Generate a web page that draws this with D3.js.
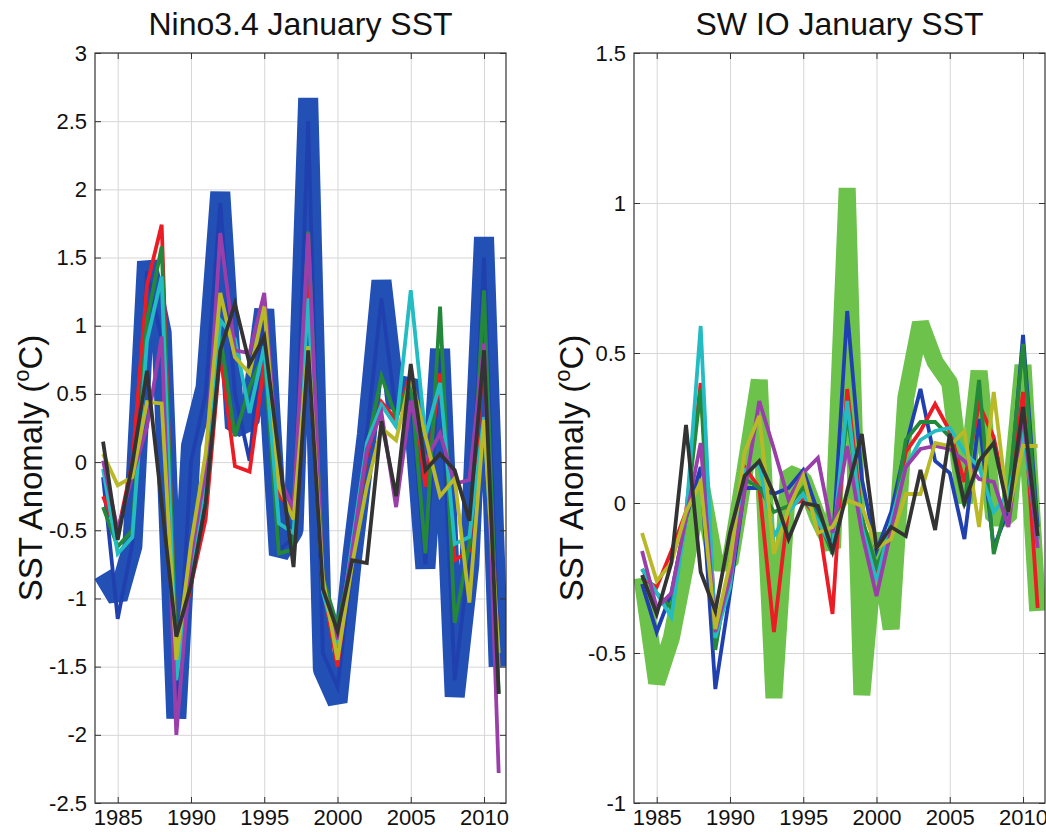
<!DOCTYPE html>
<html lang="en">
<head>
    <meta charset="utf-8">
    <title>January SST</title>
    <script src="https://cdn.jsdelivr.net/npm/d3@7"></script>
</head>
<style>
    body {
        margin: 0;
        padding: 0;
        background-color: #ffffff;
        font-family: "Liberation Sans", Arial, sans-serif;
    }
    .grid line {
        stroke: #d6d6d6;
        stroke-width: 1;
    }
    .grid path {
        display: none;
    }
    .axis path {
        display: none;
    }
    .axis line {
        stroke: #333;
    }
    .axis text {
        font-size: 22px;
        fill: #111;
    }
    .panel-title {
        font-size: 32px;
        text-anchor: middle;
        fill: #111;
    }
    .y-title {
        font-size: 33px;
        text-anchor: middle;
        fill: #111;
    }
</style>
<body>
    <svg width="1046" height="832" id="chart"></svg>
    <script>
        // years on the x axis
        var years = [1984, 1985, 1986, 1987, 1988, 1989, 1990, 1991, 1992, 1993, 1994, 1995, 1996, 1997,
                     1998, 1999, 2000, 2001, 2002, 2003, 2004, 2005, 2006, 2007, 2008, 2009, 2010, 2011];
        var xTicks = [1985, 1990, 1995, 2000, 2005, 2010];
        var ninoTicks = [-2.5, -2, -1.5, -1, -0.5, 0, 0.5, 1, 1.5, 2, 2.5, 3];
        var swioTicks = [-1, -0.5, 0, 0.5, 1, 1.5];

        // Nino3.4 January SST anomaly (thick band = observed)
        var ninoObs     = [-0.82, -1.0, -0.62, 1.47, 0.95, -1.88, 0.12, 0.55, 1.98, 0.25, 0.3, 1.12, -0.68, -0.5,
                           2.67, -1.52, -1.76, -0.7, 0.2, 1.33, 0.4, 0.6, -0.78, 0.83, -1.72, -0.75, 1.65, -1.5];
        var ninoBlue    = [-0.11, -1.15, -0.6, 1.4, 0.9, -1.85, 0.0, 0.5, 1.9, 0.5, 0.01, 1.1, -0.65, -0.55,
                           2.5, -1.4, -1.65, -0.75, 0.2, 1.2, 0.35, 0.5, -0.75, 0.8, -1.6, -0.7, 1.5, -1.5];
        var ninoRed     = [-0.25, -0.52, 0.0, 1.3, 1.74, -1.45, -0.9, -0.42, 0.8, -0.03, -0.07, 0.72, -0.25, -0.35,
                           1.3, -0.9, -1.5, -0.65, 0.05, 0.44, 0.31, 0.65, -0.18, 0.65, -0.72, -0.65, 0.85, -1.5];
        var ninoGreen   = [-0.33, -0.62, -0.5, 1.04, 1.58, -1.4, -0.75, -0.3, 0.92, 0.19, 0.55, 0.8, -0.67, -0.64,
                           1.69, -0.85, -1.2, -0.7, 0.1, 0.63, 0.33, 0.6, -0.67, 1.14, -1.18, -0.6, 1.26, -1.7];
        var ninoCyan    = [-0.05, -0.67, -0.55, 0.89, 1.36, -1.6, -0.8, -0.13, 1.04, 0.9, 0.36, 0.85, -0.45, -0.52,
                           1.2, -0.95, -1.35, -0.6, 0.14, 0.42, 0.26, 1.26, 0.19, 0.58, -0.6, -0.55, 0.33, -1.5];
        var ninoMagenta = [0.01, -0.5, -0.1, 0.26, 0.92, -2.0, -0.7, -0.06, 1.68, 0.82, 0.8, 1.24, -0.1, -0.35,
                           1.68, -0.9, -1.3, -0.65, 0.09, 0.36, -0.33, 0.45, 0.01, 0.21, -0.16, -0.13, 0.87, -2.28];
        var ninoYellow  = [0.06, -0.17, -0.11, 0.44, 0.43, -1.45, -0.6, 0.06, 1.24, 0.77, 0.65, 1.14, -0.18, -0.42,
                           0.85, -0.85, -1.45, -0.75, -0.18, 0.25, 0.16, 0.63, 0.19, -0.25, -0.12, -1.03, 0.31, -1.4];
        var ninoGray    = [0.15, -0.57, -0.01, 0.67, -0.3, -1.28, -0.9, -0.3, 0.82, 1.16, 0.72, 0.92, 0.05, -0.77,
                           0.82, -0.93, -1.24, -0.72, -0.74, 0.3, -0.25, 0.72, -0.06, 0.06, -0.06, -0.43, 0.82, -1.7];

        // SW Indian Ocean January SST anomaly (thick band = observed)
        var swioObs     = [-0.25, -0.6, -0.45, -0.2, 0.07, -0.2, -0.2, 0.1, 0.41, -0.65, 0.1, 0.08, -0.05, -0.15,
                           1.05, -0.64, -0.1, -0.42, 0.35, 0.6, 0.47, 0.4, 0.0, 0.44, -0.05, -0.05, 0.46, -0.36];
        var swioBlue    = [-0.27, -0.43, -0.3, -0.05, 0.12, -0.62, -0.3, 0.05, 0.05, 0.03, 0.05, 0.11, -0.03, -0.15,
                           0.64, 0.08, -0.16, -0.03, 0.19, 0.38, 0.14, 0.1, -0.12, 0.28, -0.15, -0.02, 0.56, -0.08];
        var swioRed     = [-0.25, -0.28, -0.16, -0.03, 0.4, -0.41, -0.25, 0.12, 0.05, -0.43, -0.01, 0.01, -0.05, -0.37,
                           0.38, -0.05, -0.23, -0.09, 0.17, 0.24, 0.33, 0.24, 0.07, 0.33, 0.22, -0.01, 0.37, -0.35];
        var swioGreen   = [-0.22, -0.3, -0.35, -0.05, 0.38, -0.49, -0.2, 0.08, 0.05, -0.03, -0.01, 0.05, -0.05, -0.17,
                           0.3, -0.05, -0.21, -0.1, 0.21, 0.27, 0.27, 0.22, -0.01, 0.41, -0.17, 0.02, 0.53, -0.12];
        var swioCyan    = [-0.22, -0.3, -0.38, -0.05, 0.59, -0.45, -0.28, 0.11, 0.13, -0.11, -0.03, 0.03, -0.06, -0.15,
                           0.34, -0.08, -0.26, -0.06, 0.12, 0.21, 0.24, 0.25, 0.17, 0.12, -0.03, 0.03, 0.24, -0.12];
        var swioMagenta = [-0.16, -0.35, -0.3, -0.05, 0.2, -0.43, -0.25, 0.04, 0.34, 0.18, 0.01, 0.1, 0.15, -0.1,
                           0.19, -0.1, -0.31, -0.09, 0.12, 0.18, 0.19, 0.18, 0.14, 0.08, 0.07, -0.08, 0.3, -0.15];
        var swioYellow  = [-0.1, -0.26, -0.2, -0.03, 0.07, -0.42, -0.2, 0.17, 0.29, -0.17, -0.02, 0.09, -0.1, -0.08,
                           0.01, -0.01, -0.15, -0.12, 0.03, 0.03, 0.2, 0.19, 0.24, -0.08, 0.37, -0.03, 0.19, 0.19];
        var swioGray    = [-0.24, -0.37, -0.2, 0.26, -0.23, -0.36, -0.1, 0.09, 0.14, 0.03, -0.12, 0.0, -0.01, -0.16,
                           0.04, 0.23, -0.15, -0.08, -0.11, 0.11, -0.09, 0.23, 0.0, 0.14, 0.2, -0.03, 0.32, -0.11];

        var lineColors = ["#2140b0", "#ec1c24", "#24883a", "#22bcc2", "#9a3fa9", "#b9b928", "#333333"];

        var svg = d3.select("#chart");

        function drawPanel(p) {
            var g = svg.append("g").attr("transform", "translate(" + p.left + "," + p.top + ")");

            var x = d3.scaleLinear().domain([1983.45, 2011.5]).range([0, p.width]);
            var y = d3.scaleLinear().domain(p.yDomain).range([p.height, 0]);

            // grid
            g.append("g")
                .attr("class", "grid")
                .call(d3.axisBottom(x).tickValues(xTicks).tickSize(p.height).tickFormat(""));
            g.append("g")
                .attr("class", "grid")
                .call(d3.axisLeft(y).tickValues(p.yTicks).tickSize(-p.width).tickFormat(""));

            var clipId = "clip-" + p.id;
            g.append("clipPath").attr("id", clipId)
                .append("rect").attr("width", p.width).attr("height", p.height);

            var plot = g.append("g").attr("clip-path", "url(#" + clipId + ")");

            var line = d3.line()
                .x(function (d, i) { return x(years[i]); })
                .y(function (d) { return y(d); });

            // thick observed band
            plot.append("path")
                .datum(p.obs)
                .attr("fill", "none")
                .attr("stroke", p.bandColor)
                .attr("stroke-width", p.bandWidth)
                .attr("stroke-linejoin", "bevel")
                .attr("d", line);

            // model lines
            plot.selectAll(".model")
                .data(p.series)
                .enter().append("path")
                .attr("class", "model")
                .attr("fill", "none")
                .attr("stroke", function (d, i) { return lineColors[i]; })
                .attr("stroke-width", 3.8)
                .attr("stroke-linejoin", "miter")
                .attr("d", line);

            // box
            g.append("rect")
                .attr("width", p.width)
                .attr("height", p.height)
                .attr("fill", "none")
                .attr("stroke", "#333")
                .attr("stroke-width", 1.2);

            var fmt = function (d) { return String(d); };

            g.append("g").attr("class", "axis")
                .call(d3.axisLeft(y).tickValues(p.yTicks).tickSizeInner(-6).tickSizeOuter(0).tickPadding(8).tickFormat(fmt));
            g.append("g").attr("class", "axis")
                .attr("transform", "translate(" + p.width + ",0)")
                .call(d3.axisRight(y).tickValues(p.yTicks).tickSizeInner(-6).tickSizeOuter(0).tickFormat(""));
            g.append("g").attr("class", "axis")
                .attr("transform", "translate(0," + p.height + ")")
                .call(d3.axisBottom(x).tickValues(xTicks).tickSizeInner(-6).tickSizeOuter(0).tickPadding(6).tickFormat(fmt));
            g.append("g").attr("class", "axis")
                .call(d3.axisTop(x).tickValues(xTicks).tickSizeInner(-6).tickSizeOuter(0).tickFormat(""));

            // title
            svg.append("text")
                .attr("class", "panel-title")
                .attr("x", p.left + p.width / 2)
                .attr("y", 35)
                .text(p.title);

            // y axis title
            var yt = svg.append("text")
                .attr("class", "y-title")
                .attr("transform", "translate(" + p.yTitleX + "," + (p.top + p.height / 2 + 40) + ") rotate(-90)");
            yt.append("tspan").text("SST Anomaly (");
            yt.append("tspan").attr("dy", -13).style("font-size", "22px").text("o");
            yt.append("tspan").attr("dy", 13).text("C)");
        }

        drawPanel({
            id: "nino", left: 95, top: 53, width: 411, height: 750,
            yDomain: [-2.5, 3], yTicks: ninoTicks,
            title: "Nino3.4 January SST", yTitleX: 42,
            obs: ninoObs, bandColor: "#2250b5", bandWidth: 20,
            series: [ninoBlue, ninoRed, ninoGreen, ninoCyan, ninoMagenta, ninoYellow, ninoGray]
        });

        drawPanel({
            id: "swio", left: 634, top: 53, width: 411, height: 750,
            yDomain: [-1, 1.5], yTicks: swioTicks,
            title: "SW IO January SST", yTitleX: 583,
            obs: swioObs, bandColor: "#6cc24a", bandWidth: 17,
            series: [swioBlue, swioRed, swioGreen, swioCyan, swioMagenta, swioYellow, swioGray]
        });
    </script>
</body>
</html>
